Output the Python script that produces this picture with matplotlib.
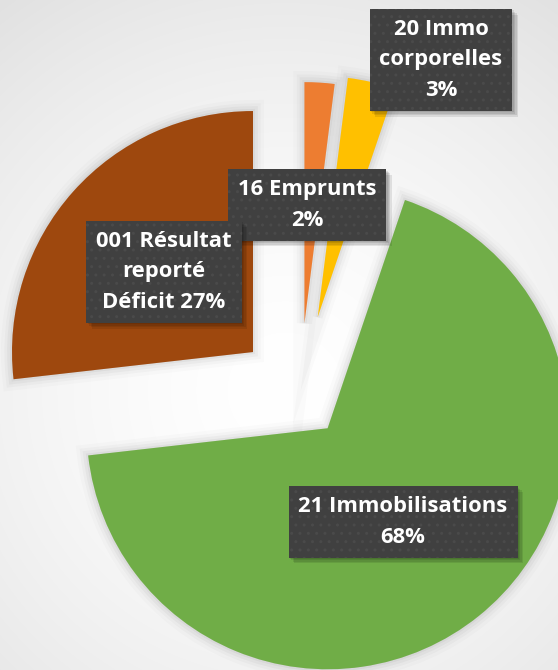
import matplotlib
matplotlib.use("Agg")
import matplotlib.pyplot as plt
import matplotlib.patheffects as pe
import numpy as np

# part des comptes (en %)
labels = ["16 Emprunts", "20 Immo\ncorporelles", "21 Immobilisations",
          "001 Résultat\nreporté\nDéficit"]
values = [2.0, 3.2, 68.0, 26.8]
colors = ["#ED7D31", "#FFC000", "#70AD47", "#9E480E"]


class BoxShadow(pe.AbstractPathEffect):
    # ombre douce sans le motif de points
    def draw_path(self, renderer, gc, tpath, affine, rgbFace=None):
        gc0 = renderer.new_gc()
        gc0.copy_properties(gc)
        gc0.set_hatch(None)
        gc0.set_linewidth(0)
        gc0.set_alpha(0.09)
        renderer.draw_path(gc0, tpath, affine + self._offset_transform(renderer),
                           (0, 0, 0))
        gc0.restore()


W, H = 558, 670
fig = plt.figure(figsize=(W / 100, H / 100), dpi=100)
ax = fig.add_axes([0, 0, 1, 1])

# fond en degrade radial
yy, xx = np.mgrid[0:H, 0:W]
d = np.hypot(xx - 285, yy - 390) / 490
bg = np.clip(1 - 0.12 * d ** 1.6, 0, 1)
ax.imshow(np.dstack([bg, bg, bg]), extent=(0, W, 0, H), origin="upper", zorder=0)

cx, cy = 300, H - 394
radius = 241
explode = [71, 79, 44, 63]

wedges, _ = ax.pie(values, colors=colors, startangle=90, counterclock=False,
                   radius=radius, center=(cx, cy), explode=explode,
                   wedgeprops=dict(linewidth=0))
shadow = [pe.Stroke(linewidth=w, foreground="k", alpha=a)
          for w, a in [(16, 0.015), (11, 0.025), (7, 0.03), (3, 0.04)]]
for w in wedges:
    w.set_zorder(2)
    w.set_path_effects(shadow + [pe.Normal()])

ax.set_xlim(0, W)
ax.set_ylim(0, H)
ax.axis("off")

# etiquettes
label_pos = [(307, 205), (441, 60), (403, 522), (164, 272)]
box = dict(boxstyle="square,pad=0.45", facecolor="#404040", edgecolor="#4a4a4a",
           linewidth=0, hatch="..")
for lab, v, (px, py) in zip(labels, values, label_pos):
    txt = f"{lab}\n{round(v)}%" if lab.count("\n") < 2 else f"{lab} {round(v)}%"
    t = ax.text(px, H - py, txt, ha="center", va="center", color="white",
                fontsize=15.8, fontweight="bold", family="Open Sans",
                linespacing=1.6, bbox=box, zorder=5)
    t.get_bbox_patch().set_path_effects(
        [BoxShadow(offset=(o, -o)) for o in (1, 2, 3, 4)] + [pe.Normal()])

fig.savefig("out.png", dpi=100)
